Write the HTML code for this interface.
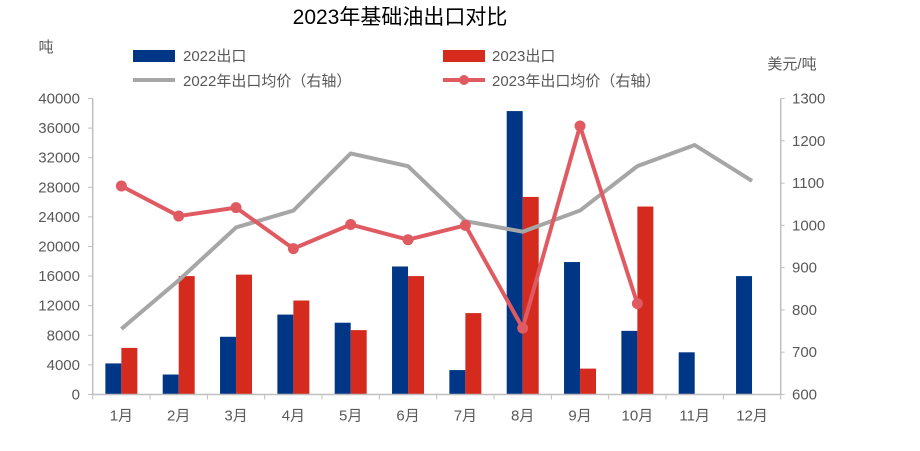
<!DOCTYPE html>
<html><head><meta charset="utf-8"><style>
html,body{margin:0;padding:0;background:#fff;width:920px;height:451px;overflow:hidden}
svg text{font-family:"Liberation Sans","Noto Sans CJK SC",sans-serif;fill:#595959}
</style></head><body>
<svg id="c" width="920" height="451" xmlns="http://www.w3.org/2000/svg">
<text x="400" y="24" font-size="21" text-anchor="middle" style="fill:#000">2023年基础油出口对比</text>
<text x="46" y="52" font-size="15" text-anchor="middle">吨</text>
<text x="792" y="69" font-size="15" text-anchor="middle">美元/吨</text>
<rect x="133" y="50" width="42" height="12" fill="#003686"/>
<text x="183" y="61" font-size="15">2022出口</text>
<line x1="133" y1="80" x2="175" y2="80" stroke="#a6a6a6" stroke-width="4"/>
<text x="183" y="86" font-size="15">2022年出口均价（右轴）</text>
<rect x="443" y="50" width="42" height="12" fill="#d52b1e"/>
<text x="492" y="61" font-size="15">2023出口</text>
<line x1="443" y1="80" x2="485" y2="80" stroke="#e05a62" stroke-width="4"/>
<circle cx="464" cy="80" r="5" fill="#e05a62"/>
<text x="492" y="86" font-size="15">2023年出口均价（右轴）</text>
<g id="g"></g>
</svg>
<script>
var g=document.getElementById('g'),s='';
var L=92.7,R=780.7,B=394.5,T=98.5,H=B-T,cw=(R-L)/12;
var b22=[4200,2700,7800,10800,9700,17300,3300,38300,17900,8600,5700,16000];
var b23=[6300,16000,16200,12700,8700,16000,11000,26700,3500,25400];
var p22=[755,870,995,1035,1170,1140,1010,985,1035,1140,1190,1105];
var p23=[1093,1022,1042,945,1002,966,1000,757,1235,815];
function yl(v){return B-v/40000*H}function yr(v){return B-(v-600)/700*H}
for(var i=0;i<=10;i++){var y=B-i*H/10;s+='<line x1="88" y1="'+y+'" x2="'+L+'" y2="'+y+'" stroke="#bfbfbf"/>';s+='<text x="80" y="'+(y+5)+'" font-size="15" text-anchor="end">'+(i*4000)+'</text>';}
for(var i=0;i<=7;i++){var y=B-i*H/7;s+='<line x1="'+R+'" y1="'+y+'" x2="'+(R+4)+'" y2="'+y+'" stroke="#bfbfbf"/>';s+='<text x="792" y="'+(y+5)+'" font-size="15">'+(600+i*100)+'</text>';}
for(var i=0;i<=12;i++){var x=L+i*cw;s+='<line x1="'+x+'" y1="'+B+'" x2="'+x+'" y2="'+(B+5)+'" stroke="#bfbfbf"/>';}
for(var i=0;i<12;i++){var c=L+cw*(i+0.5);
s+='<rect x="'+(c-16)+'" y="'+yl(b22[i])+'" width="16" height="'+(B-yl(b22[i]))+'" fill="#003686"/>';
if(i<b23.length)s+='<rect x="'+c+'" y="'+yl(b23[i])+'" width="16" height="'+(B-yl(b23[i]))+'" fill="#d52b1e"/>';
s+='<text x="'+c+'" y="'+(B+26)+'" font-size="15" text-anchor="middle">'+(i+1)+'月</text>';}
s+='<line x1="'+L+'" y1="'+T+'" x2="'+L+'" y2="'+B+'" stroke="#bfbfbf" stroke-width="1.5"/>';
s+='<line x1="'+R+'" y1="'+T+'" x2="'+R+'" y2="'+B+'" stroke="#bfbfbf" stroke-width="1.5"/>';
s+='<line x1="'+L+'" y1="'+B+'" x2="'+R+'" y2="'+B+'" stroke="#bfbfbf" stroke-width="1.5"/>';
var pt=p22.map(function(v,i){return (L+cw*(i+0.5))+','+yr(v)}).join(' ');
s+='<polyline points="'+pt+'" fill="none" stroke="#a6a6a6" stroke-width="4" stroke-linejoin="round"/>';
pt=p23.map(function(v,i){return (L+cw*(i+0.5))+','+yr(v)}).join(' ');
s+='<polyline points="'+pt+'" fill="none" stroke="#e05a62" stroke-width="4" stroke-linejoin="round"/>';
p23.forEach(function(v,i){s+='<circle cx="'+(L+cw*(i+0.5))+'" cy="'+yr(v)+'" r="5.5" fill="#e05a62"/>';});
g.innerHTML=s;
</script>
</body></html>
